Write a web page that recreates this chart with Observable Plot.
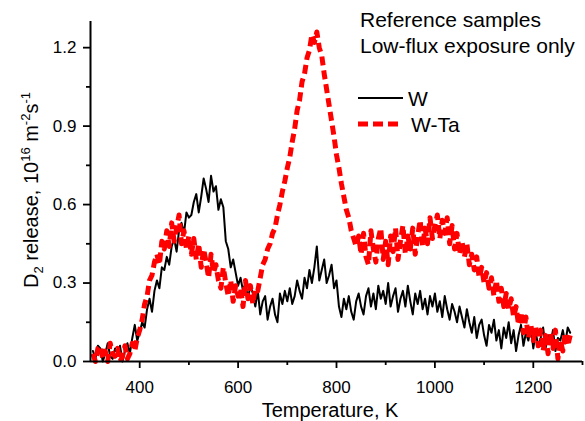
<!DOCTYPE html>
<html>
<head>
<meta charset="utf-8">
<script src="https://cdn.jsdelivr.net/npm/d3@7"></script>
<script src="https://cdn.jsdelivr.net/npm/@observablehq/plot@0.6"></script>
<style>
  html, body { margin: 0; padding: 0; background: #fff; }
  svg { display: block; }
</style>
</head>
<body>
<div id="chart"></div>
<script>
// Temperature grid (K): first sample and spacing of the readings below
const tempStart = 305;
const tempStep = 5;

// D2 release, 10^16 m^-2 s^-1 — W (reference sample)
const wRelease = [
  0.04,0.01,0.06,0.05,0.00,0.03,0.07,0.02,0.01,0.05,
  0.03,0.06,0.00,0.04,0.07,0.03,0.09,0.14,0.08,0.11,
  0.15,0.13,0.20,0.24,0.19,0.27,0.31,0.28,0.36,0.35,
  0.40,0.37,0.44,0.47,0.42,0.50,0.53,0.49,0.57,0.55,
  0.56,0.61,0.64,0.57,0.63,0.70,0.66,0.61,0.71,0.65,
  0.67,0.58,0.62,0.59,0.46,0.43,0.36,0.39,0.34,0.29,
  0.32,0.27,0.30,0.24,0.29,0.26,0.21,0.27,0.18,0.23,
  0.25,0.16,0.21,0.24,0.18,0.15,0.26,0.22,0.27,0.23,
  0.28,0.22,0.25,0.31,0.27,0.24,0.32,0.28,0.35,0.30,
  0.36,0.44,0.31,0.35,0.39,0.30,0.33,0.37,0.28,0.31,
  0.21,0.17,0.24,0.20,0.25,0.19,0.16,0.23,0.26,0.21,
  0.18,0.25,0.28,0.21,0.26,0.20,0.29,0.24,0.27,0.22,
  0.30,0.21,0.25,0.28,0.19,0.24,0.27,0.21,0.29,0.23,
  0.18,0.26,0.22,0.27,0.20,0.24,0.18,0.25,0.21,0.26,
  0.19,0.23,0.17,0.25,0.20,0.16,0.22,0.19,0.15,0.21,
  0.17,0.13,0.20,0.15,0.11,0.17,0.09,0.14,0.16,0.10,
  0.06,0.14,0.11,0.16,0.08,0.12,0.05,0.13,0.09,0.15,
  0.07,0.12,0.04,0.10,0.14,0.06,0.11,0.08,0.13,0.05,
  0.11,0.06,0.09,0.13,0.05,0.10,0.07,0.12,0.04,0.09,
  0.08,0.12,0.07,0.13,0.11
];

// D2 release, 10^16 m^-2 s^-1 — W-Ta (reference sample)
const wtaRelease = [
  0.03,0.00,0.05,0.06,0.01,0.04,0.00,0.07,0.03,0.02,
  0.05,0.00,0.02,0.06,0.01,0.03,0.07,0.04,0.09,0.12,
  0.16,0.22,0.25,0.31,0.33,0.38,0.41,0.37,0.46,0.43,
  0.50,0.44,0.53,0.46,0.51,0.56,0.45,0.50,0.43,0.48,
  0.41,0.47,0.39,0.45,0.36,0.43,0.38,0.32,0.41,0.34,
  0.37,0.31,0.28,0.36,0.30,0.25,0.31,0.23,0.29,0.25,
  0.28,0.21,0.31,0.24,0.29,0.22,0.28,0.27,0.32,0.37,
  0.39,0.43,0.45,0.49,0.51,0.56,0.60,0.65,0.69,0.74,
  0.78,0.84,0.89,0.96,1.00,1.07,1.10,1.16,1.19,1.25,
  1.22,1.26,1.20,1.17,1.10,1.04,0.98,0.92,0.86,0.79,
  0.74,0.68,0.63,0.58,0.55,0.50,0.47,0.44,0.48,0.41,
  0.49,0.40,0.37,0.50,0.43,0.38,0.47,0.51,0.39,0.46,
  0.37,0.48,0.42,0.51,0.39,0.46,0.52,0.41,0.48,0.43,
  0.51,0.41,0.48,0.54,0.44,0.51,0.45,0.55,0.47,0.52,
  0.56,0.47,0.54,0.49,0.55,0.45,0.52,0.43,0.49,0.41,
  0.46,0.40,0.45,0.37,0.41,0.35,0.40,0.32,0.36,0.30,
  0.34,0.28,0.32,0.25,0.31,0.23,0.28,0.21,0.26,0.20,
  0.24,0.17,0.21,0.14,0.19,0.11,0.17,0.09,0.14,0.08,
  0.13,0.06,0.12,0.04,0.10,0.03,0.11,0.05,0.12,0.01,
  0.08,0.04,0.11,0.06,0.10
];

const seriesNames = ["W", "W-Ta"];
const headerLines = ["Reference samples", "Low-flux exposure only"];
const xTicks = [400, 600, 800, 1000, 1200];
const xMinorTicks = [500, 700, 900, 1100, 1300];
const yTicks = [0, 0.3, 0.6, 0.9, 1.2];
const yMinorTicks = [0.15, 0.45, 0.75, 1.05];
const xDomain = [300, 1300];
const yDomain = [0, 1.3];

const wData = wRelease.map((v, i) => ({T: tempStart + i * tempStep, v, s: seriesNames[0]}));
const wtaData = wtaRelease.map((v, i) => ({T: tempStart + i * tempStep, v, s: seriesNames[1]}));

const font = "'Liberation Sans', Arial, Helvetica, sans-serif";

const svg = Plot.plot({
  width: 585,
  height: 421,
  marginLeft: 90,
  marginRight: 3,
  marginTop: 21,
  marginBottom: 60,
  style: {fontFamily: font, fontSize: "17px", color: "#000", background: "#fff", overflow: "visible"},
  x: {domain: xDomain},
  y: {domain: yDomain},
  marks: [
    Plot.line(wData, {x: "T", y: "v", stroke: "#000", strokeWidth: 2}),
    Plot.line(wtaData, {x: "T", y: "v", stroke: "#ff0000", strokeWidth: 5, strokeDasharray: "9,5", strokeLinecap: "butt"}),
    Plot.ruleX([xDomain[0]], {stroke: "#000", strokeWidth: 2}),
    Plot.ruleY([yDomain[0]], {stroke: "#000", strokeWidth: 2}),
    Plot.axisX({ticks: xTicks, tickSize: 7, tickPadding: 12, tickFormat: d3.format("d"), label: null, strokeWidth: 1.8, fontSize: 17}),
    Plot.axisX({ticks: xMinorTicks, tickSize: 4, tickFormat: () => "", label: null, strokeWidth: 1.8}),
    Plot.axisY({ticks: yTicks, tickSize: 7, tickPadding: 7, tickFormat: d3.format(".1f"), label: null, strokeWidth: 1.8, fontSize: 17}),
    Plot.axisY({ticks: yMinorTicks, tickSize: 4, tickFormat: () => "", label: null, strokeWidth: 1.8})
  ]
});

document.getElementById("chart").appendChild(svg);

const s = d3.select(svg);

// x-axis title
s.append("text")
  .attr("x", 330).attr("y", 417)
  .attr("text-anchor", "middle")
  .attr("font-family", font).attr("font-size", 20).attr("fill", "#000")
  .text("Temperature, K");

// y-axis title with sub/superscripts
const yl = s.append("text")
  .attr("transform", "translate(38,190) rotate(-90)")
  .attr("text-anchor", "middle")
  .attr("font-family", font).attr("font-size", 20).attr("fill", "#000");
yl.append("tspan").text("D");
yl.append("tspan").attr("font-size", 13).attr("dy", 5).text("2");
yl.append("tspan").attr("dy", -5).text(" release, 10");
yl.append("tspan").attr("font-size", 13).attr("dy", -8).text("16");
yl.append("tspan").attr("dy", 8).text(" m");
yl.append("tspan").attr("font-size", 13).attr("dy", -8).text("-2");
yl.append("tspan").attr("dy", 8).text("s");
yl.append("tspan").attr("font-size", 13).attr("dy", -8).text("-1");

// header text
headerLines.forEach((t, i) => {
  s.append("text")
    .attr("x", 360).attr("y", 27 + i * 26)
    .attr("text-anchor", "start")
    .attr("font-family", font).attr("font-size", 21).attr("fill", "#000")
    .text(t);
});

// legend
const legendStyles = [
  {stroke: "#000", width: 2, dash: null, x2: 403, tx: 408, y: 98},
  {stroke: "#ff0000", width: 5, dash: "10,5", x2: 400, tx: 411, y: 124}
];
seriesNames.forEach((name, i) => {
  const st = legendStyles[i];
  s.append("line")
    .attr("x1", 358).attr("x2", st.x2).attr("y1", st.y).attr("y2", st.y)
    .attr("stroke", st.stroke).attr("stroke-width", st.width)
    .attr("stroke-dasharray", st.dash);
  s.append("text")
    .attr("x", st.tx).attr("y", st.y + 8)
    .attr("text-anchor", "start")
    .attr("font-family", font).attr("font-size", 21).attr("fill", "#000")
    .text(name);
});
</script>
</body>
</html>
